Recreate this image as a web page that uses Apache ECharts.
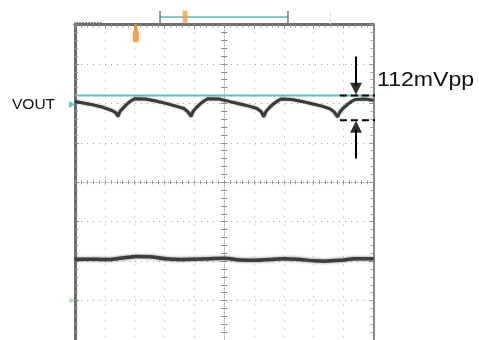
<!DOCTYPE html>
<html><head><meta charset="utf-8">
<script src="https://cdn.jsdelivr.net/npm/echarts@6/dist/echarts.min.js"></script>
<style>html,body{margin:0;padding:0;background:#fff}#c{width:479px;height:340px}</style>
</head><body><div id="c"></div>
<script>
// Units: oscilloscope divisions (x: -5..5, y: -4..4)
const rippleX = [-5.00,-4.50,-4.06,-3.76,-3.63,-3.56,-3.49,-3.39,-3.26,-3.13,-2.99,-2.94,-2.64,-2.29,-1.95,-1.62,-1.35,-1.22,-1.11,-1.05,-0.95,-0.81,-0.68,-0.54,-0.49,-0.17,0.16,0.50,0.83,1.10,1.24,1.33,1.40,1.50,1.64,1.77,1.90,1.95,2.27,2.61,2.94,3.28,3.55,3.68,3.80,3.88,3.98,4.12,4.25,4.39,4.45,4.72,5.00];
const rippleY = [2.05,1.98,1.90,1.82,1.76,1.67,1.80,1.88,1.98,2.06,2.12,2.16,2.11,2.06,2.00,1.93,1.87,1.79,1.67,1.79,1.88,1.98,2.06,2.12,2.16,2.11,2.05,1.99,1.93,1.87,1.79,1.66,1.79,1.88,1.98,2.05,2.11,2.16,2.10,2.05,1.99,1.93,1.86,1.79,1.66,1.78,1.87,1.96,2.04,2.10,2.15,2.11,2.08];
const lowerX = [-5.0,-4.5,-4.0,-3.5,-2.92,-2.49,-1.98,-1.48,-0.98,-0.48,0,0.53,1.03,1.54,2.04,2.54,3.04,3.38,3.88,4.39,5.0];
const lowerY = [-1.95,-1.95,-1.96,-1.93,-1.88,-1.89,-1.94,-1.96,-1.95,-1.94,-1.93,-1.97,-1.98,-1.96,-1.94,-1.96,-1.99,-2.00,-1.98,-1.94,-1.94];
const cursorLevel = 2.20;
const ppTop = 2.20, ppBottom = 1.57;
const arrowX = 4.42;
const dashFromX = 3.88, dashToX = 8.54;
const upperShaft = [3.19, 2.45];
const lowerShaft = [1.33, 0.60];
const arrowDownY = 2.37, arrowUpY = 1.41;
const ch1MarkerY = 1.97, ch2MarkerY = -3.0, markerX = -5.10;
const windowX = [-2.15, 2.14], windowY = [4.34, 4.19, 4.01];
const trigTopX = -1.31, trigTopY = 4.19;
const trigPosX = -2.96, trigPosStem = [4.01, 3.84], trigPosY = 3.70;
const faintX = 3.55;
const dashTopLeft = [[-5.37, 4.05], [-4.10, 4.05]];
const labelText = '112mVpp', chLabel = 'VOUT';

const zip = (a, b) => a.map((v, i) => [v, b[i]]);
const chart = echarts.init(document.getElementById('c'), null, {renderer: 'canvas'});
const base = {min: -5, max: 5, interval: 1, type: 'value'};
const baseY = {min: -4, max: 4, interval: 1, type: 'value'};
const noLbl = {show: false};
chart.setOption({
  backgroundColor: '#fff',
  animation: false,
  grid: {left: 75, top: 24.5, width: 298.3, height: 317.6, show: false},
  xAxis: [
    Object.assign({}, base, {position: 'bottom', axisLine: {show: false, onZero: false}, axisTick: {show: false}, axisLabel: noLbl,
      splitLine: {show: true, lineStyle: {color: '#aaa', width: 1, type: [1, 7]}}}),
    Object.assign({}, base, {position: 'bottom', axisLine: {show: true, onZero: true, lineStyle: {color: '#aaa', width: 1, type: [1, 2]}},
      axisTick: {show: true, inside: true, length: 2, lineStyle: {color: '#999'}}, minorTick: {show: true, splitNumber: 5, length: 2, lineStyle: {color: '#999'}}, axisLabel: noLbl, splitLine: {show: false}}),
    Object.assign({}, base, {position: 'bottom', axisLine: {show: false, onZero: true},
      axisTick: {show: true, inside: false, length: 2, lineStyle: {color: '#999'}}, minorTick: {show: true, splitNumber: 5, length: 2, lineStyle: {color: '#999'}}, axisLabel: noLbl, splitLine: {show: false}}),
    Object.assign({}, base, {position: 'top', axisLine: {show: true, onZero: false, lineStyle: {color: '#6e6e6e', width: 3}},
      axisTick: {show: true, inside: true, length: 4, lineStyle: {color: '#888'}}, minorTick: {show: true, splitNumber: 5, length: 3, lineStyle: {color: '#999'}}, axisLabel: noLbl, splitLine: {show: false}})
  ],
  yAxis: [
    Object.assign({}, baseY, {position: 'left', axisLine: {show: false, onZero: false}, axisTick: {show: false}, axisLabel: noLbl,
      splitLine: {show: true, lineStyle: {color: '#aaa', width: 1, type: [1, 5]}}}),
    Object.assign({}, baseY, {position: 'left', axisLine: {show: true, onZero: true, onZeroAxisIndex: 0, lineStyle: {color: '#aaa', width: 1, type: [1, 2]}},
      axisTick: {show: true, inside: true, length: 3, lineStyle: {color: '#888'}}, minorTick: {show: true, splitNumber: 5, length: 3, lineStyle: {color: '#888'}}, axisLabel: noLbl, splitLine: {show: false}}),
    Object.assign({}, baseY, {position: 'left', axisLine: {show: false, onZero: true, onZeroAxisIndex: 0},
      axisTick: {show: true, inside: false, length: 3, lineStyle: {color: '#888'}}, minorTick: {show: true, splitNumber: 5, length: 3, lineStyle: {color: '#888'}}, axisLabel: noLbl, splitLine: {show: false}}),
    Object.assign({}, baseY, {position: 'left', axisLine: {show: true, onZero: false, lineStyle: {color: '#6e6e6e', width: 3}},
      axisTick: {show: true, inside: true, length: 4, lineStyle: {color: '#888'}}, minorTick: {show: true, splitNumber: 5, length: 3, lineStyle: {color: '#999'}}, axisLabel: noLbl, splitLine: {show: false}}),
    Object.assign({}, baseY, {position: 'right', axisLine: {show: true, onZero: false, lineStyle: {color: '#8a8a8a', width: 2}},
      axisTick: {show: true, inside: true, length: 4, lineStyle: {color: '#999'}}, minorTick: {show: true, splitNumber: 5, length: 3, lineStyle: {color: '#aaa'}}, axisLabel: noLbl, splitLine: {show: false}})
  ],
  graphic: [
    {type: 'text', left: 12, top: 97, style: {text: chLabel, font: '15.5px "Liberation Sans", Arial, sans-serif', fill: '#111'}},
    {type: 'text', x: 377, y: 70, scaleX: 1.1, style: {text: labelText, font: '21px "Liberation Sans", Arial, sans-serif', fill: '#111'}}
  ],
  series: [
    {type: 'line', name: 'cursor', data: [[-5, cursorLevel], [5, cursorLevel]], symbol: 'none', lineStyle: {color: '#5fbdbd', width: 2}, z: 3},
    {type: 'line', name: 'VOUT', data: zip(rippleX, rippleY), symbol: 'none', lineStyle: {color: '#3a3a3a', width: 3, shadowColor: 'rgba(0,0,0,0.45)', shadowBlur: 2}, z: 5},
    {type: 'line', name: 'lower', data: zip(lowerX, lowerY), symbol: 'none', smooth: 0.3, lineStyle: {color: '#3e3e3e', width: 3.5, shadowColor: 'rgba(0,0,0,0.5)', shadowBlur: 3}, z: 5},
    {type: 'scatter', name: 'ch1mark', data: [[markerX, ch1MarkerY]], symbol: 'triangle', symbolRotate: -90, symbolSize: [7, 6], itemStyle: {color: '#3fb5b5'}, clip: false, z: 6},
    {type: 'scatter', name: 'ch2mark', data: [[markerX, ch2MarkerY]], symbol: 'triangle', symbolRotate: -90, symbolSize: [6, 5], itemStyle: {color: '#9ad49a'}, clip: false, z: 6},
    {type: 'line', name: 'window', data: [[windowX[0], windowY[1]], [windowX[1], windowY[1]]], symbol: 'none', clip: false, lineStyle: {color: '#8cc9c9', width: 2}, z: 6},
    {type: 'line', name: 'window-ends', data: [[windowX[0], windowY[0]], [windowX[0], windowY[2]], null, [windowX[1], windowY[0]], [windowX[1], windowY[2]]], symbol: 'none', clip: false, connectNulls: false, lineStyle: {color: '#777', width: 1.5}, z: 6},
    {type: 'line', name: 'faint', data: [[faintX, windowY[0]], [faintX, windowY[2]]], symbol: 'none', clip: false, lineStyle: {color: '#e2e2e2', width: 1}, z: 2},
    {type: 'line', name: 'topleft', data: dashTopLeft, symbol: 'none', clip: false, lineStyle: {color: '#888', width: 1, type: [2, 1]}, z: 6},
    {type: 'scatter', name: 'trigTop', data: [[trigTopX, trigTopY]], symbol: 'roundRect', symbolSize: [5, 13], itemStyle: {color: '#f2a24a'}, clip: false, z: 7},
    {type: 'line', name: 'trigStem', data: [[trigPosX, trigPosStem[0]], [trigPosX, trigPosStem[1]]], symbol: 'none', clip: false, lineStyle: {color: '#f08c2c', width: 3}, z: 7},
    {type: 'scatter', name: 'trigPos', data: [[trigPosX, trigPosY]], symbol: 'roundRect', symbolSize: [6, 12], itemStyle: {color: '#f08c2c'}, clip: false, z: 7},
    {type: 'line', name: 'ppTop', data: [[dashFromX, ppTop], [dashToX, ppTop]], symbol: 'none', clip: false, lineStyle: {color: '#000', width: 2, type: [7, 4]}, z: 8},
    {type: 'line', name: 'ppBottom', data: [[dashFromX, ppBottom], [dashToX, ppBottom]], symbol: 'none', clip: false, lineStyle: {color: '#000', width: 2, type: [7, 4]}, z: 8},
    {type: 'line', name: 'shafts', data: [[arrowX, upperShaft[0]], [arrowX, upperShaft[1]], null, [arrowX, lowerShaft[0]], [arrowX, lowerShaft[1]]], symbol: 'none', clip: false, connectNulls: false, lineStyle: {color: '#000', width: 2}, z: 8},
    {type: 'scatter', name: 'arrowDown', data: [[arrowX, arrowDownY]], symbol: 'triangle', symbolRotate: 180, symbolSize: [12, 12], itemStyle: {color: '#000'}, clip: false, z: 8},
    {type: 'scatter', name: 'arrowUp', data: [[arrowX, arrowUpY]], symbol: 'triangle', symbolSize: [12, 12], itemStyle: {color: '#000'}, clip: false, z: 8}
  ]
});
</script></body></html>
